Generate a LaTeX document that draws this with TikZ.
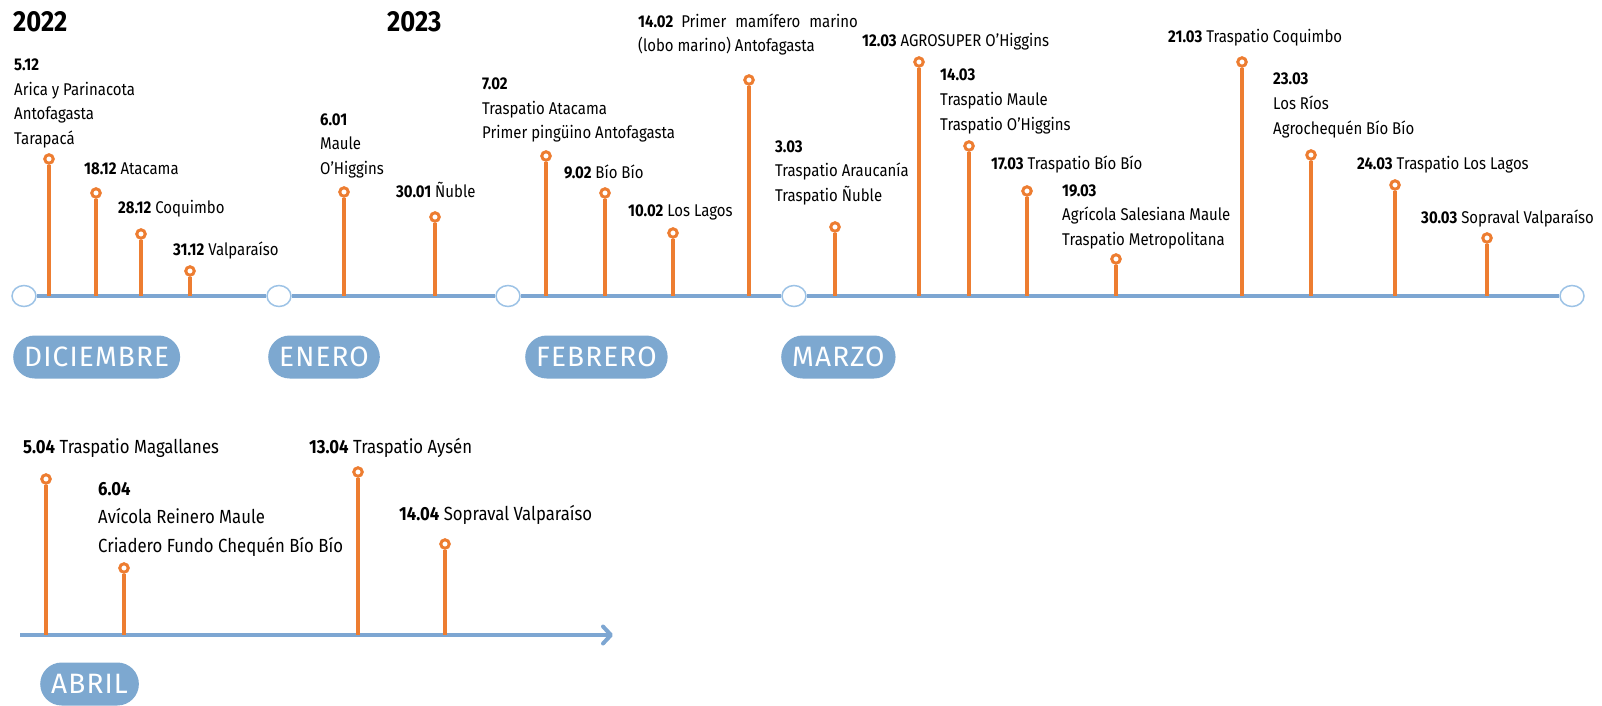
\documentclass[tikz,border=0pt]{standalone}
\usepackage{fontspec}
\setmainfont{Fira Sans}[FakeStretch=0.88]
\newfontfamily\monthfont{Fira Sans}[LetterSpace=4]
\usepackage{tikz}
\usetikzlibrary{arrows.meta,shapes.geometric}
\definecolor{corange}{RGB}{237,125,49}
\definecolor{cblue}{RGB}{125,166,210}
\definecolor{cpill}{RGB}{125,168,208}
\definecolor{chub}{RGB}{157,195,230}

\begin{document}
\begin{tikzpicture}[x=1pt,y=-1pt,
  pin node/.style={circle,draw=corange,fill=white,line width=3pt,inner sep=0pt,minimum size=8.5pt},
  hub node/.style={ellipse,draw=chub,fill=white,line width=1.5pt,inner sep=0pt,minimum width=24pt,minimum height=21pt},
  month node/.style={rectangle,anchor=west,rounded corners=21.5pt,fill=cpill,text=white,minimum height=43pt,inner xsep=11pt,font=\monthfont\fontsize{28}{30}\selectfont},
  year node/.style={anchor=base west,inner sep=0pt,font=\bfseries\fontsize{29}{32}\selectfont},
  info node/.style={anchor=base west,inner sep=0pt,align=left,font=\fontsize{17}{24.5}\selectfont},
  low node/.style={anchor=base west,inner sep=0pt,align=left,font=\fontsize{19}{28.5}\selectfont},
  stem/.style={draw=corange,line width=3.5pt},
  axis/.style={draw=cblue,line width=4pt}]
  \useasboundingbox (0,0) rectangle (1602,706);

  % years
  \node[year node] (y1) at (13,32) {2022};
  \node[year node] (y2) at (387,32) {2023};

  % months
  \node[hub node] (h1) at (24,296) {};
  \node[hub node] (h2) at (279,296) {};
  \node[hub node] (h3) at (508,296) {};
  \node[hub node] (h4) at (794,296) {};
  \node[hub node] (h5) at (1572,296) {};
  \draw[axis] (h1) -- (h2);
  \draw[axis] (h2) -- (h3);
  \draw[axis] (h3) -- (h4);
  \draw[axis] (h4) -- (h5);

  \node[month node] (m1) at (13,357) {DICIEMBRE};
  \node[month node] (m2) at (268,357) {ENERO};
  \node[month node] (m3) at (525,357) {FEBRERO};
  \node[month node] (m4) at (781,357) {MARZO};

  % pins, first row
  \node[pin node] (p1) at (49,159) {};
  \node[pin node] (p2) at (96,193) {};
  \node[pin node] (p3) at (141,234) {};
  \node[pin node] (p4) at (190,271) {};
  \node[pin node] (p5) at (344,192) {};
  \node[pin node] (p6) at (435,217) {};
  \node[pin node] (p7) at (546,156) {};
  \node[pin node] (p8) at (605,193) {};
  \node[pin node] (p9) at (673,233) {};
  \node[pin node] (p10) at (749,80) {};
  \node[pin node] (p11) at (835,227) {};
  \node[pin node] (p12) at (919,62) {};
  \node[pin node] (p13) at (969,146) {};
  \node[pin node] (p14) at (1027,191) {};
  \node[pin node] (p15) at (1116,259) {};
  \node[pin node] (p16) at (1242,62) {};
  \node[pin node] (p17) at (1311,155) {};
  \node[pin node] (p18) at (1395,185) {};
  \node[pin node] (p19) at (1487,238) {};

  \path[stem]
    (p1) edge (p1 |- h1)
    (p2) edge (p2 |- h1)
    (p3) edge (p3 |- h1)
    (p4) edge (p4 |- h1)
    (p5) edge (p5 |- h1)
    (p6) edge (p6 |- h1)
    (p7) edge (p7 |- h1)
    (p8) edge (p8 |- h1)
    (p9) edge (p9 |- h1)
    (p10) edge (p10 |- h1)
    (p11) edge (p11 |- h1)
    (p12) edge (p12 |- h1)
    (p13) edge (p13 |- h1)
    (p14) edge (p14 |- h1)
    (p15) edge (p15 |- h1)
    (p16) edge (p16 |- h1)
    (p17) edge (p17 |- h1)
    (p18) edge (p18 |- h1)
    (p19) edge (p19 |- h1);

  % labels (multi-line ones sit on their last line)
  \node[info node] (t1) at (14,144) {\textbf{5.12}\\Arica y Parinacota\\Antofagasta\\Tarapacá};
  \node[info node] (t2) at (84,174) {\textbf{18.12} Atacama};
  \node[info node] (t3) at (118,213) {\textbf{28.12} Coquimbo};
  \node[info node] (t4) at (173,255) {\textbf{31.12} Valparaíso};
  \node[info node] (t5) at (320,174) {\textbf{6.01}\\Maule\\O'Higgins};
  \node[info node] (t6) at (396,197) {\textbf{30.01} Ñuble};
  \node[info node] (t7) at (482,139) {\textbf{7.02}\\Traspatio Atacama\\Primer pingüino Antofagasta};
  \node[info node] (t8) at (564,178) {\textbf{9.02} Bío Bío};
  \node[info node] (t9) at (628,216) {\textbf{10.02} Los Lagos};
  \node[info node] (t10) at (638,52) {\textbf{14.02}\hspace{4pt} Primer\hspace{5pt} mamífero\hspace{5pt} marino\\(lobo marino) Antofagasta};
  \node[info node] (t11) at (775,201) {\textbf{3.03}\\Traspatio Araucanía\\Traspatio Ñuble};
  \node[info node] (t12) at (862,47) {\textbf{12.03} AGROSUPER O'Higgins};
  \node[info node] (t13) at (940,130) {\textbf{14.03}\\Traspatio Maule\\Traspatio O'Higgins};
  \node[info node] (t14) at (991,169) {\textbf{17.03} Traspatio Bío Bío};
  \node[info node] (t15) at (1062,245) {\textbf{19.03}\\Agrícola Salesiana Maule\\Traspatio Metropolitana};
  \node[info node] (t16) at (1168,43) {\textbf{21.03} Traspatio Coquimbo};
  \node[info node] (t17) at (1273,134) {\textbf{23.03}\\Los Ríos\\Agrochequén Bío Bío};
  \node[info node] (t18) at (1357,169) {\textbf{24.03} Traspatio Los Lagos};
  \node[info node] (t19) at (1421,223) {\textbf{30.03} Sopraval Valparaíso};

  % second row
  \coordinate (a0) at (20,635);
  \coordinate (a1) at (613,635);
  \draw[axis,-{Straight Barb[length=8pt,width=17pt,line cap=round,line join=round]}] (a0) -- (a1);
  \node[month node] (m5) at (40,684) {ABRIL};

  \node[pin node] (q1) at (46,479) {};
  \node[pin node] (q2) at (124,568) {};
  \node[pin node] (q3) at (358,472) {};
  \node[pin node] (q4) at (445,544) {};
  \path[stem]
    (q1) edge (q1 |- a0)
    (q2) edge (q2 |- a0)
    (q3) edge (q3 |- a0)
    (q4) edge (q4 |- a0);

  \node[low node] (s1) at (23,453) {\textbf{5.04} Traspatio Magallanes};
  \node[low node] (s2) at (98,552) {\textbf{6.04}\\Avícola Reinero Maule\\Criadero Fundo Chequén Bío Bío};
  \node[low node] (s3) at (309,453) {\textbf{13.04} Traspatio Aysén};
  \node[low node] (s4) at (399,520) {\textbf{14.04} Sopraval Valparaíso};
\end{tikzpicture}
\end{document}
